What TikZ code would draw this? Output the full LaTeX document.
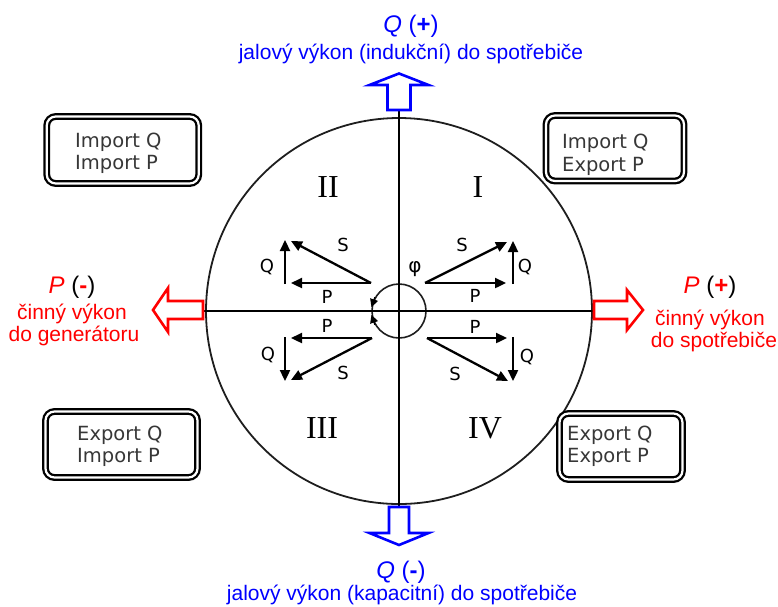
\documentclass[tikz,border=0pt]{standalone}
\usepackage{fontspec}
\setmainfont{Liberation Sans}
\newfontfamily\boxfont{DejaVu Sans}
\newfontfamily\numfont{Liberation Serif}
\usetikzlibrary{arrows.meta}

\definecolor{qblue}{RGB}{0,0,255}
\definecolor{pred}{RGB}{255,0,0}
\definecolor{boxtext}{RGB}{55,55,55}
\definecolor{ring}{RGB}{30,30,30}

\begin{document}
\begin{tikzpicture}[x=1pt,y=-1pt,
  axis/.style={line width=2.2pt, black},
  vec/.style={line width=2.3pt, -{Triangle[length=11pt,width=10pt]}},
  turn/.style={line width=1.2pt, -{Triangle[length=8pt,width=8pt]}},
  boxframe/.style={draw, line width=2.3pt, double=white, double distance=2.2pt,
    rounded corners=9pt, inner sep=0pt},
  boxtxt/.style={font=\boxfont\fontsize{19.5}{22}\selectfont, text=boxtext,
    align=left, anchor=base west, inner sep=0pt},
  veclbl/.style={font=\boxfont\fontsize{18}{20}\selectfont, inner sep=0pt},
  quad/.style={font=\numfont\fontsize{32}{32}\selectfont, inner sep=0pt},
  qarrow/.style={draw=qblue, line width=2.6pt, fill=white},
  parrow/.style={draw=pred, line width=2.6pt, fill=white},
  bigtxt/.style={font=\fontsize{24}{28}\selectfont, inner sep=0pt, anchor=base},
  subtxt/.style={font=\fontsize{21}{24}\selectfont, inner sep=0pt, anchor=base},
]
\useasboundingbox (0,0) rectangle (778,606);

% circles
\node[circle, draw=ring, line width=1.8pt, minimum size=386pt, inner sep=0pt] (big) at (399,311) {};
\node[circle, draw=ring, line width=1.6pt, minimum size=54pt, inner sep=0pt] (small) at (399,311) {};

% axes
\coordinate (xl) at (203,311);
\coordinate (xr) at (594,311);
\coordinate (yt) at (399,110);
\coordinate (yb) at (399,508);
\draw[axis] (xl) -- (xr);
\draw[axis] (yt) -- (yb);

% block arrows on the axes
\draw[qarrow] (387.5,110) -- (387.5,85) -- (369.5,85) -- (399,73.5) -- (428.5,85)
  -- (410.5,85) -- (410.5,110) -- cycle;
\draw[qarrow] (389,507) -- (389,533) -- (369.5,533) -- (399,545) -- (428.5,533)
  -- (409,533) -- (409,507) -- cycle;
\draw[parrow] (594,301) -- (627,301) -- (627,290) -- (643,310) -- (627,330)
  -- (627,319) -- (594,319) -- cycle;
\draw[parrow] (203,301) -- (168,301) -- (168,288) -- (153,310) -- (168,332)
  -- (168,319) -- (203,319) -- cycle;

% angle marks on the small circle
\draw[turn] (small.150) -- (small.172);
\draw[turn] (small.210) -- (small.188);

% quadrant I
\coordinate (o1) at (425,283);
\coordinate (p1) at (506,283);
\coordinate (s1) at (507,242);
\coordinate (qa1) at (513,284);
\coordinate (qb1) at (513,241);
\draw[vec] (o1) -- (p1);
\draw[vec] (o1) -- (s1);
\draw[vec] (qa1) -- (qb1);
% quadrant II
\coordinate (o2) at (371,283);
\coordinate (p2) at (291,283);
\coordinate (s2) at (291,241);
\coordinate (qa2) at (285,284);
\coordinate (qb2) at (285,240);
\draw[vec] (o2) -- (p2);
\draw[vec] (o2) -- (s2);
\draw[vec] (qa2) -- (qb2);
% quadrant III
\coordinate (o3) at (372,338);
\coordinate (p3) at (291,338);
\coordinate (s3) at (291,380);
\coordinate (qa3) at (285,337);
\coordinate (qb3) at (285,381);
\draw[vec] (o3) -- (p3);
\draw[vec] (o3) -- (s3);
\draw[vec] (qa3) -- (qb3);
% quadrant IV
\coordinate (o4) at (427,338);
\coordinate (p4) at (507,338);
\coordinate (s4) at (508,381);
\coordinate (qa4) at (513,337);
\coordinate (qb4) at (513,381);
\draw[vec] (o4) -- (p4);
\draw[vec] (o4) -- (s4);
\draw[vec] (qa4) -- (qb4);

% vector labels
\node[veclbl] (ls1) at (462,245) {S};
\node[veclbl] (lp1) at (475,296) {P};
\node[veclbl] (lq1) at (525,267) {Q};
\node[veclbl, font=\boxfont\fontsize{20}{22}\selectfont] (phi) at (415,269) {φ};
\node[veclbl] (ls2) at (343,245) {S};
\node[veclbl] (lp2) at (327,297) {P};
\node[veclbl] (lq2) at (267,267) {Q};
\node[veclbl] (ls3) at (343,373) {S};
\node[veclbl] (lp3) at (327,326) {P};
\node[veclbl] (lq3) at (268,355) {Q};
\node[veclbl] (ls4) at (455,374) {S};
\node[veclbl] (lp4) at (475,327) {P};
\node[veclbl] (lq4) at (527,357) {Q};

% quadrant numbers
\node[quad] (nII) at (328,187) {II};
\node[quad] (nI) at (478,187) {I};
\node[quad] (nIII) at (322,428) {III};
\node[quad] (nIV) at (485,428) {IV};

% corner boxes
\node[boxframe, minimum width=152pt, minimum height=67pt] (b2) at (122.75,150) {};
\node[boxframe, minimum width=138pt, minimum height=65.5pt] (b1) at (615,148.25) {};
\node[boxframe, minimum width=152pt, minimum height=66pt] (b3) at (121.5,444.5) {};
\node[boxframe, minimum width=123pt, minimum height=66pt] (b4) at (621,446.5) {};
\node[boxtxt] (t2a) at (75,147) {Import Q};
\node[boxtxt] (t2b) at (75,169) {Import P};
\node[boxtxt] (t1a) at (562,148) {Import Q};
\node[boxtxt] (t1b) at (562,171) {Export P};
\node[boxtxt] (t3a) at (77,440) {Export Q};
\node[boxtxt] (t3b) at (77,462) {Import P};
\node[boxtxt] (t4a) at (567,440) {Export Q};
\node[boxtxt] (t4b) at (567,462) {Export P};

% axis captions
\node[bigtxt, text=qblue] (qp) at (411,32) {\textit{Q} (\textbf{+})};
\node[subtxt, text=qblue] (qpd) at (411,59) {jalový výkon (indukční) do spotřebiče};
\node[bigtxt, text=qblue] (qm) at (401,578) {\textit{Q} (\textbf{-})};
\node[subtxt, text=qblue] (qmd) at (402,600) {jalový výkon (kapacitní) do spotřebiče};

\node[bigtxt, text=pred] (pm) at (72,293) {\textit{P} \textcolor{black}{(}\textbf{-}\textcolor{black}{)}};
\node[subtxt, text=pred] (pmd1) at (72,319) {činný výkon};
\node[subtxt, text=pred] (pmd2) at (74,341) {do generátoru};
\node[bigtxt, text=pred] (pp) at (710,293) {\textit{P} \textcolor{black}{(}\textbf{+}\textcolor{black}{)}};
\node[subtxt, text=pred] (ppd1) at (710,325) {činný výkon};
\node[subtxt, text=pred] (ppd2) at (714,347) {do spotřebiče};
\end{tikzpicture}
\end{document}
